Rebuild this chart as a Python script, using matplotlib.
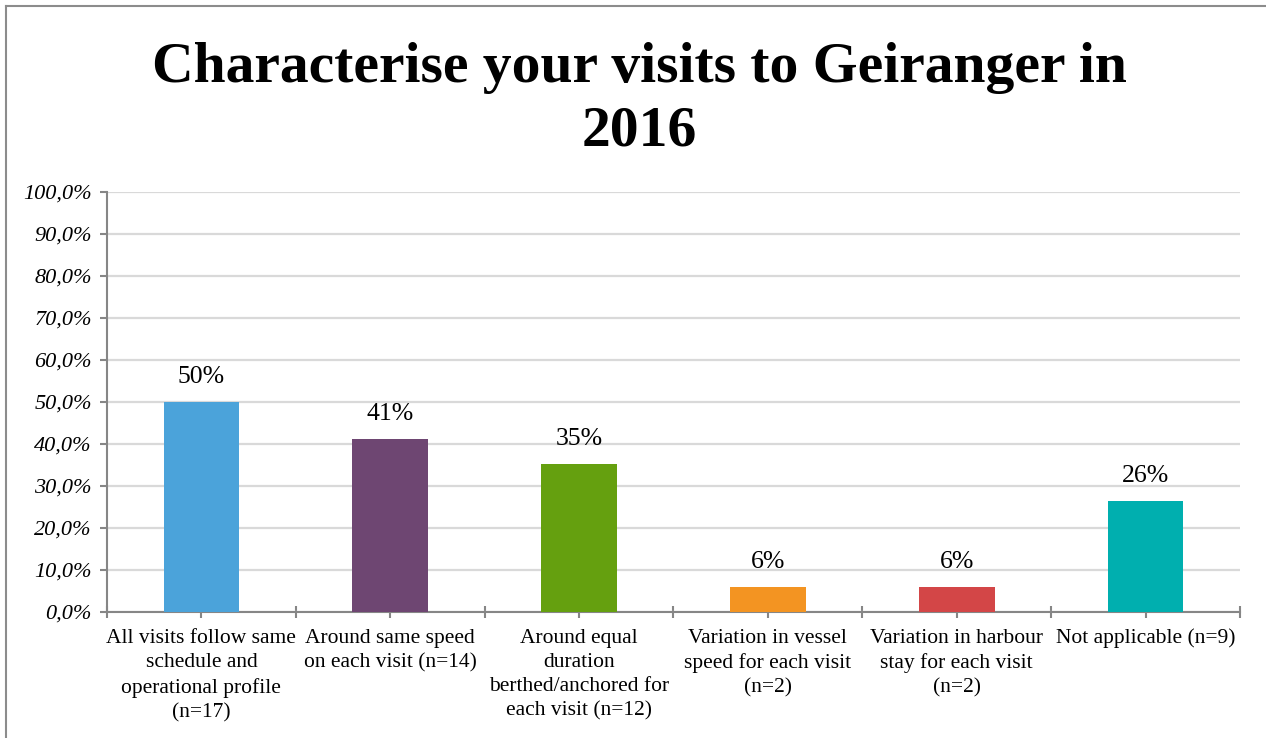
import matplotlib.pyplot as plt
from matplotlib.lines import Line2D
from matplotlib.ticker import FixedLocator

plt.rcParams['font.family'] = ['Liberation Serif', 'DejaVu Serif']

categories = [
    "All visits follow same\nschedule and\noperational profile\n(n=17)",
    "Around same speed\non each visit (n=14)",
    "Around equal\nduration\nberthed/anchored for\neach visit (n=12)",
    "Variation in vessel\nspeed for each visit\n(n=2)",
    "Variation in harbour\nstay for each visit\n(n=2)",
    "Not applicable (n=9)",
]
counts = [17, 14, 12, 2, 2, 9]
respondents = 34
shares = [100.0 * c / respondents for c in counts]
colors = ["#4BA3DA", "#6E4672", "#65A00F", "#F39422", "#D34647", "#00AFAF"]
yticks = list(range(0, 101, 10))

fig = plt.figure(figsize=(12.66, 7.38), dpi=100)
ax = fig.add_axes([107 / 1266, 1 - 612 / 738, (1240 - 107) / 1266, 420 / 738])

x = list(range(len(categories)))
bars = ax.bar(x, shares, width=0.40, color=colors, zorder=3)
for b, v in zip(bars, shares):
    ax.annotate(f"{v:.0f}%", (b.get_x() + b.get_width() / 2, v),
                xytext=(0, 10), textcoords="offset points",
                ha="center", va="bottom", fontsize=18.5)

ax.set_xlim(-0.5, len(categories) - 0.5)
ax.set_ylim(0, 100)
ax.set_yticks(yticks)
ax.set_yticklabels([f"{t:.1f}%".replace(".", ",") for t in yticks],
                   fontsize=16, style="italic")
ax.set_xticks(x)
ax.set_xticklabels(categories, fontsize=15.5, linespacing=1.38)
ax.xaxis.set_minor_locator(FixedLocator([i - 0.5 for i in range(len(categories) + 1)]))

ax.grid(axis="y", color="#D9D9D9", lw=1.6, zorder=0)
for s in ("top", "right"):
    ax.spines[s].set_visible(False)
for s in ("left", "bottom"):
    ax.spines[s].set_color("#868686")
    ax.spines[s].set_linewidth(1.5)
ax.tick_params(axis="y", length=5, width=1.5, color="#868686", pad=6)
ax.tick_params(axis="x", which="major", length=4, width=1.5, color="#868686", pad=8)
ax.tick_params(axis="x", which="minor", direction="inout", length=9, width=1.5, color="#868686")

fig.text(0.505, 1 - 42 / 738, "Characterise your visits to Geiranger in\n2016",
         ha="center", va="top", fontsize=41.5, fontweight="bold", linespacing=1.30)

# outer chart frame: left and top edges, the rest runs off the canvas
fx, fy = 6 / 1266, 1 - 6 / 738
fig.add_artist(Line2D([fx, fx], [0, fy], transform=fig.transFigure, color="#8C8C8C", lw=1.5))
fig.add_artist(Line2D([fx, 1], [fy, fy], transform=fig.transFigure, color="#8C8C8C", lw=1.5))

fig.savefig("out.png", dpi=100)
